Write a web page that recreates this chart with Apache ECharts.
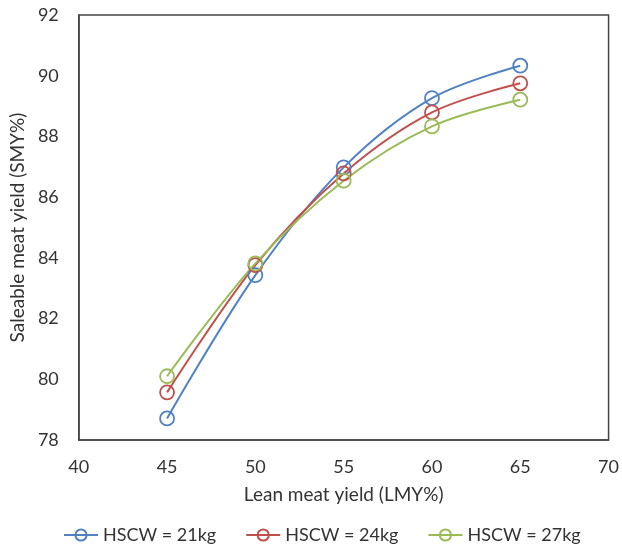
<!DOCTYPE html>
<html><head><meta charset="utf-8">
<script src="https://cdn.jsdelivr.net/npm/echarts@6/dist/echarts.min.js"></script>
<style>html,body{margin:0;padding:0;background:#fff}#c{width:622px;height:548px}</style>
</head><body><div id="c"></div>
<script>
const xValues = [45, 50, 55, 60, 65];
const hscw21 = [78.71, 83.43, 86.98, 89.26, 90.33];
const hscw24 = [79.57, 83.76, 86.78, 88.79, 89.75];
const hscw27 = [80.10, 83.82, 86.54, 88.33, 89.21];
const seriesNames = ['HSCW = 21kg', 'HSCW = 24kg', 'HSCW = 27kg'];
const colors = ['#4f81c4', '#c0504d', '#9bbb59'];
const xAxisName = 'Lean meat yield (LMY%)';
const yAxisName = 'Saleable meat yield (SMY%)';

const font = 'Lato, "Open Sans", sans-serif';
const chart = echarts.init(document.getElementById('c'));
const dataSets = [hscw21, hscw24, hscw27];
chart.setOption({
  animation: false,
  textStyle: {fontFamily: font},
  grid: {left: 77, right: 12, top: 15, bottom: 108, show: true, borderColor: '#444', borderWidth: 1.5, backgroundColor: 'transparent'},
  xAxis: {
    type: 'value', min: 40, max: 70, interval: 5,
    name: xAxisName, nameLocation: 'middle', nameGap: 45,
    nameTextStyle: {fontSize: 19, color: '#333', fontFamily: font},
    axisLine: {show: true, onZero: false, lineStyle: {color: '#444', width: 1.5}},
    axisTick: {show: false}, splitLine: {show: false},
    axisLabel: {fontSize: 18, color: '#333', margin: 18, fontFamily: font}
  },
  yAxis: {
    type: 'value', min: 78, max: 92, interval: 2,
    name: yAxisName, nameLocation: 'middle', nameGap: 50,
    nameTextStyle: {fontSize: 19, color: '#333', fontFamily: font},
    axisLine: {show: true, onZero: false, lineStyle: {color: '#444', width: 1.5}},
    axisTick: {show: false}, splitLine: {show: false},
    axisLabel: {fontSize: 18, color: '#333', margin: 20, fontFamily: font}
  },
  legend: {
    top: 521, left: 58, itemGap: 29, itemWidth: 34, itemHeight: 14,
    textStyle: {fontSize: 18, color: '#333', fontFamily: font},
    data: seriesNames
  },
  series: dataSets.map((d, i) => ({
    name: seriesNames[i], type: 'line', smooth: 0.35,
    data: xValues.map((x, j) => [x, d[j]]),
    symbol: 'circle', symbolSize: 14,
    lineStyle: {color: colors[i], width: 2},
    itemStyle: {color: 'rgba(255,255,255,0)', borderColor: colors[i], borderWidth: 1.8}
  }))
});
</script></body></html>
